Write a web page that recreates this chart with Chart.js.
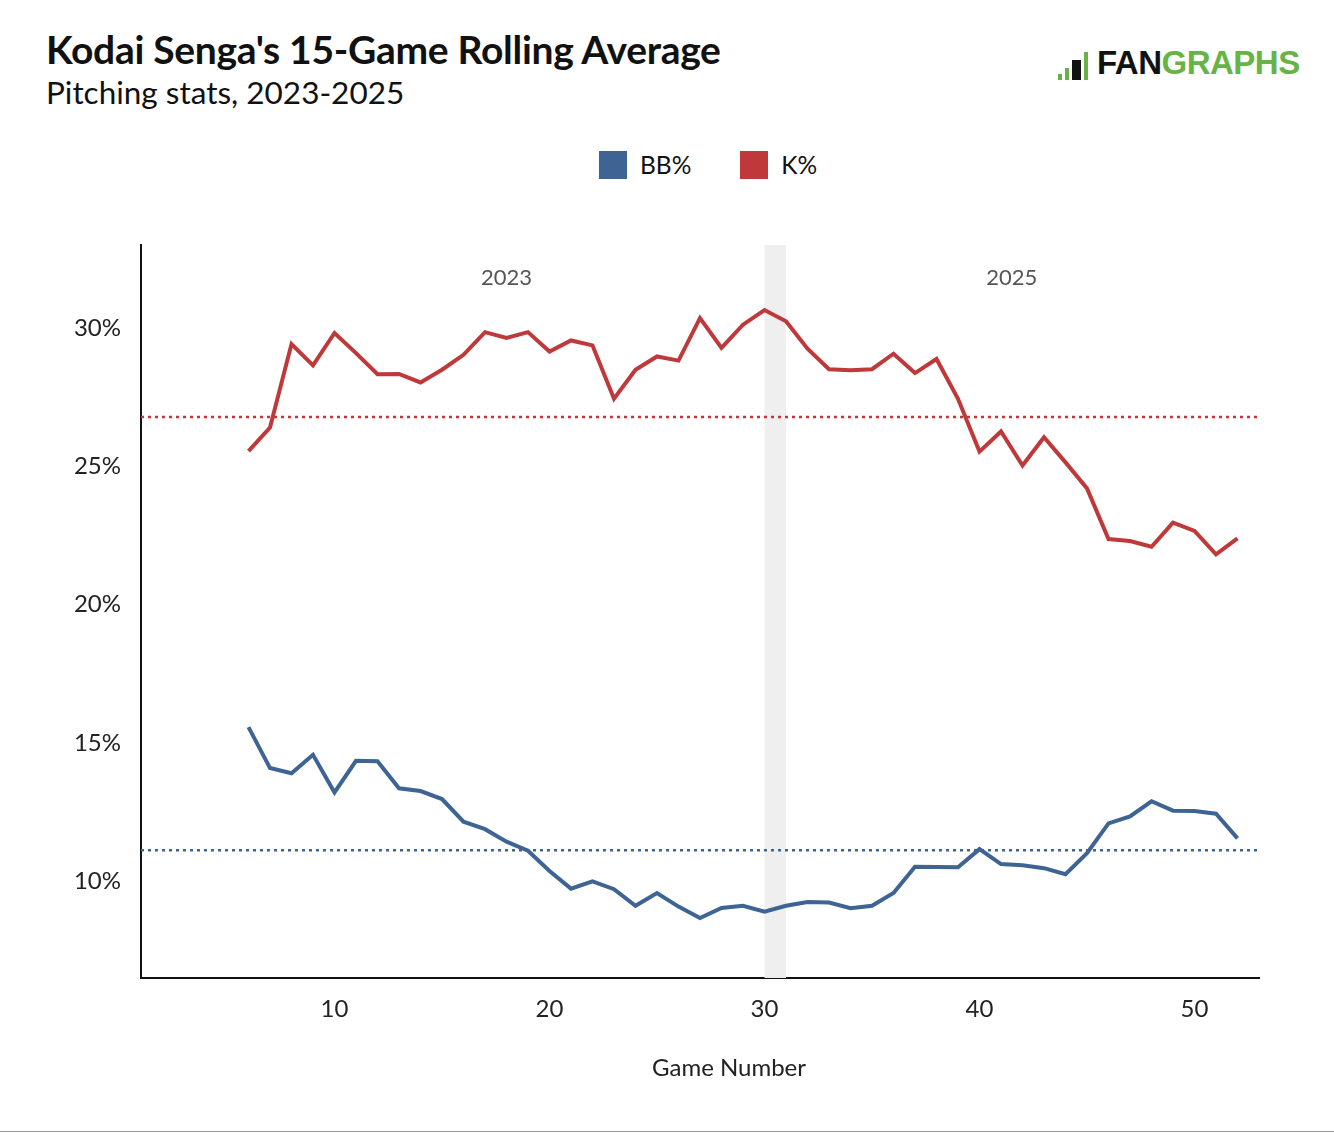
<!DOCTYPE html>
<html>
<head>
<meta charset="utf-8">
<script src="https://cdn.jsdelivr.net/npm/chart.js@4.4.1/dist/chart.umd.min.js"></script>
<style>
  html, body { margin: 0; padding: 0; background: #fff; }
  body { width: 1334px; height: 1136px; position: relative; overflow: hidden; font-family: 'Lato', sans-serif; }
  #title { position: absolute; left: 46px; top: 26px; font-size: 39px; font-weight: 700; color: #111; letter-spacing: -0.3px; white-space: nowrap; }
  #subtitle { position: absolute; left: 46px; top: 73px; font-size: 31.5px; color: #111; white-space: nowrap; }
  #logo { position: absolute; left: 1058px; top: 46px; height: 34px; display: flex; align-items: flex-end; }
  #logo .bar { background: #67b346; width: 4px; margin-right: 3px; }
  #logo .txt { font-family: 'Liberation Sans', Arial, sans-serif; font-weight: 700; font-size: 33px; line-height: 34px; letter-spacing: -0.5px; margin-left: 6px; }
  #legend { position: absolute; top: 150px; left: 599px; display: flex; font-size: 24.5px; color: #111; }
  #legend .item { display: flex; align-items: center; margin-right: 49px; }
  #legend .box { width: 28px; height: 28px; margin-right: 13px; }
  #xtitle { position: absolute; top: 1052px; left: 652px; font-size: 24px; color: #222; white-space: nowrap; }
  #chart { position: absolute; left: 0; top: 0; }
  #rule { position: absolute; left: 0; top: 1131px; width: 1334px; height: 1px; background: #999; }
</style>
</head>
<body>
<div id="title">Kodai Senga's 15-Game Rolling Average</div>
<div id="subtitle">Pitching stats, 2023-2025</div>
<div id="logo">
  <div class="bar" style="height:6px"></div>
  <div class="bar" style="height:12px"></div>
  <div class="bar" style="height:20px; width:9px; background:#111"></div>
  <div class="bar" style="height:28px"></div>
  <div class="txt"><span style="color:#111">FAN</span><span style="color:#67b346">GRAPHS</span></div>
</div>
<div id="legend"></div>
<canvas id="chart" width="1334" height="1136"></canvas>
<div id="xtitle">Game Number</div>
<div id="rule"></div>
<script>
// 15-game rolling averages, games 6..52
const games = [6, 7, 8, 9, 10, 11, 12, 13, 14, 15, 16, 17, 18, 19, 20, 21, 22, 23, 24, 25, 26, 27, 28, 29,
  30, 31, 32, 33, 34, 35, 36, 37, 38, 39, 40, 41, 42, 43, 44, 45, 46, 47, 48, 49, 50, 51, 52];

const kPct = [25.55, 26.4, 29.42, 28.65, 29.82, 29.09, 28.33, 28.34, 28.03, 28.49, 29.03, 29.85, 29.64, 29.85,
  29.15, 29.55, 29.37, 27.44, 28.49, 28.97, 28.82, 30.36, 29.28, 30.12, 30.65, 30.24, 29.25, 28.51, 28.47,
  28.51, 29.07, 28.37, 28.88, 27.44, 25.53, 26.26, 25.03, 26.05, 25.14, 24.2, 22.37, 22.3, 22.09, 22.96,
  22.66, 21.82, 22.39];

const bbPct = [15.57, 14.09, 13.9, 14.57, 13.21, 14.35, 14.34, 13.36, 13.26, 12.97, 12.15, 11.88, 11.43, 11.1,
  10.37, 9.73, 9.99, 9.71, 9.11, 9.57, 9.08, 8.67, 9.03, 9.11, 8.9, 9.11, 9.25, 9.23, 9.02, 9.11, 9.57,
  10.52, 10.51, 10.5, 11.16, 10.62, 10.58, 10.47, 10.25, 11.01, 12.09, 12.34, 12.89, 12.55, 12.54, 12.44,
  11.55];

// career averages (dotted reference lines)
const kAvg = 26.78;
const bbAvg = 11.12;

const xTicks = [10, 20, 30, 40, 50];
const yTicks = [10, 15, 20, 25, 30];

// season ranges (game numbers) and the off-season gap
const seasons = [
  { label: '2023', from: 6, to: 30 },
  { label: '2025', from: 31, to: 52 }
];
const gap = [30, 31];

const colors = {
  k: '#bf393b',
  bb: '#3e6494',
  band: '#efefef',
  text: '#222'
};

// html legend
const legendItems = [
  { label: 'BB%', color: colors.bb },
  { label: 'K%', color: colors.k }
];
const legendEl = document.getElementById('legend');
legendItems.forEach(it => {
  const d = document.createElement('div');
  d.className = 'item';
  d.innerHTML = '<div class="box" style="background:' + it.color + '"></div><span>' + it.label + '</span>';
  legendEl.appendChild(d);
});

const toPoints = (vals) => vals.map((v, i) => ({ x: games[i], y: v }));

const seasonPlugin = {
  id: 'seasons',
  beforeDatasetsDraw(chart) {
    const { ctx, chartArea, scales } = chart;
    const x0 = scales.x.getPixelForValue(gap[0]);
    const x1 = scales.x.getPixelForValue(gap[1]);
    ctx.save();
    ctx.fillStyle = colors.band;
    ctx.fillRect(x0, chartArea.top, x1 - x0, chartArea.bottom - chartArea.top);
    ctx.fillStyle = '#555';
    ctx.font = "22px 'Lato', sans-serif";
    ctx.textAlign = 'center';
    ctx.textBaseline = 'middle';
    seasons.forEach(s => {
      const cx = scales.x.getPixelForValue((s.from + s.to) / 2);
      ctx.fillText(s.label, cx, chartArea.top + 33);
    });
    ctx.restore();
  }
};

new Chart(document.getElementById('chart'), {
  type: 'line',
  data: {
    datasets: [
      {
        label: 'K% avg',
        data: [{ x: 1, y: kAvg }, { x: 53, y: kAvg }],
        borderColor: colors.k,
        borderWidth: 2.5,
        borderDash: [3, 4],
        pointRadius: 0
      },
      {
        label: 'BB% avg',
        data: [{ x: 1, y: bbAvg }, { x: 53, y: bbAvg }],
        borderColor: colors.bb,
        borderWidth: 2.5,
        borderDash: [3, 4],
        pointRadius: 0
      },
      {
        label: 'K%',
        data: toPoints(kPct),
        borderColor: colors.k,
        borderWidth: 4,
        pointRadius: 0,
        tension: 0
      },
      {
        label: 'BB%',
        data: toPoints(bbPct),
        borderColor: colors.bb,
        borderWidth: 4,
        pointRadius: 0,
        tension: 0
      }
    ]
  },
  options: {
    responsive: false,
    animation: false,
    layout: { padding: { left: 0, right: 75, top: 245, bottom: 40 } },
    plugins: {
      legend: { display: false },
      tooltip: { enabled: false }
    },
    scales: {
      x: {
        type: 'linear',
        min: 1,
        max: 53,
        afterBuildTicks: (s) => { s.ticks = xTicks.map(v => ({ value: v })); },
        afterFit: (s) => { s.height = 118; },
        grid: { display: false, drawTicks: false },
        border: { display: true, color: '#111', width: 2 },
        ticks: { color: colors.text, padding: 17, font: { family: 'Lato', size: 24 } }
      },
      y: {
        type: 'linear',
        min: 6.5,
        max: 33,
        afterBuildTicks: (s) => { s.ticks = yTicks.map(v => ({ value: v })); },
        afterFit: (s) => { s.width = 141; },
        grid: { display: false, drawTicks: false },
        border: { display: true, color: '#111', width: 2 },
        ticks: {
          color: colors.text,
          padding: 20,
          font: { family: 'Lato', size: 24 },
          callback: (v) => v + '%'
        }
      }
    }
  },
  plugins: [seasonPlugin]
});
</script>
</body>
</html>
